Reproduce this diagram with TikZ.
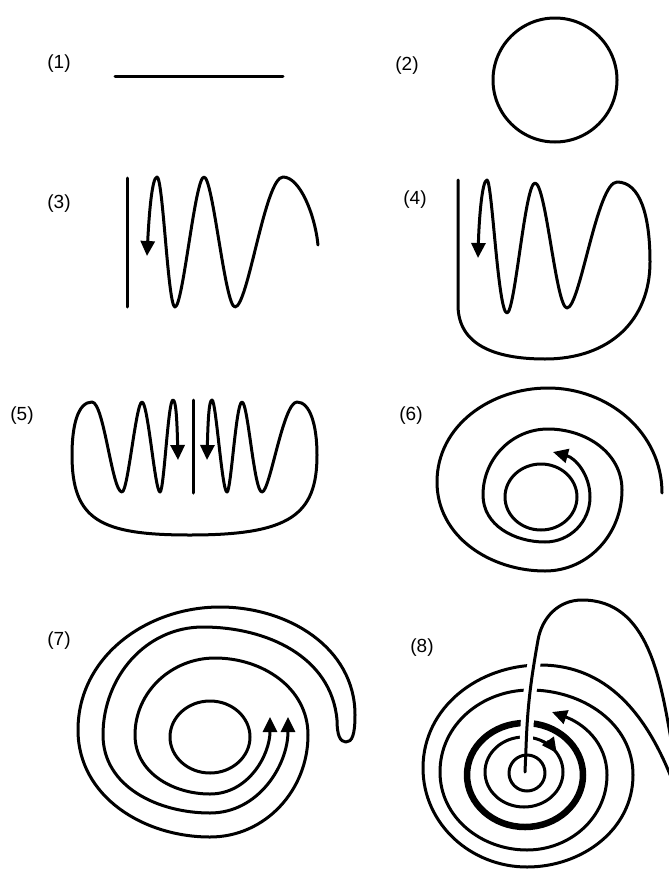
\documentclass[tikz,border=0pt]{standalone}
\usepackage{fontspec}
\setmainfont{Liberation Sans}
\usetikzlibrary{arrows.meta}
\tikzset{
  wire/.style  = {line width=3pt, black, line cap=round, line join=round},
  fat/.style   = {line width=6.5pt, black},
  halo/.style  = {line width=13pt, white},
  head/.style  = {-{Triangle[length=15pt,width=14pt]}},
  heads/.style = {{Triangle[length=15pt,width=14pt]}-{Triangle[length=15pt,width=14pt]}},
  lbl/.style   = {font=\fontsize{19}{21}\selectfont, inner sep=0pt},
}
\begin{document}
\begin{tikzpicture}[x=1pt,y=1pt]
\useasboundingbox (0,0) rectangle (669,-870);
\fill[white] (0,0) rectangle (669,-870);
\clip (0,0) rectangle (669,-870);
% --- labels -------------------------------------------------------------
\node[lbl] (l1) at (59,-64)  {(1)};
\node[lbl] (l2) at (407,-66) {(2)};
\node[lbl] (l3) at (59,-204) {(3)};
\node[lbl] (l4) at (415,-200) {(4)};
\node[lbl] (l5) at (22,-416) {(5)};
\node[lbl] (l6) at (411,-416) {(6)};
\node[lbl] (l7) at (59,-641) {(7)};
\node[lbl] (l8) at (422,-648) {(8)};
% --- (1) and (2) --------------------------------------------------------
\draw[wire] (115,-76) -- (283,-76);
\draw[wire] (555,-80) circle (62);
% --- (3) ----------------------------------------------------------------
\draw[wire] (127,-178) -- (127,-307);
\draw[wire, head] (318,-245) .. controls (315,-215) and (300,-177) .. (283,-177)
  .. controls (265,-177) and (248,-307) .. (235,-307)
  .. controls (225,-307) and (213,-177) .. (204,-177)
  .. controls (195,-177) and (183,-307) .. (175,-307)
  .. controls (168,-307) and (163,-177) .. (157,-177)
  .. controls (152,-177) and (149,-215) .. (147,-256);
% --- (4) ----------------------------------------------------------------
\draw[wire, head] (458,-180) -- (458,-305)
  .. controls (458,-345) and (495,-359) .. (545,-359)
  .. controls (610,-359) and (650,-320) .. (650,-262)
  .. controls (650,-215) and (640,-182) .. (617,-182)
  .. controls (597,-182) and (580,-308) .. (567,-308)
  .. controls (556,-308) and (546,-183) .. (535,-183)
  .. controls (525,-183) and (515,-313) .. (507,-313)
  .. controls (498,-313) and (492,-180) .. (487,-180)
  .. controls (482,-180) and (479,-220) .. (478,-258);
% --- (5) ----------------------------------------------------------------
\draw[wire] (193,-400) -- (193,-493);
\draw[wire, heads] (178,-460) .. controls (177,-420) and (176,-400) .. (173,-400)
  .. controls (168,-400) and (164,-492) .. (160,-492)
  .. controls (155,-492) and (148,-402) .. (142,-402)
  .. controls (136,-402) and (128,-492) .. (122,-492)
  .. controls (112,-492) and (104,-402) .. (92,-402)
  .. controls (78,-402) and (72,-425) .. (72,-455)
  .. controls (72,-520) and (100,-535) .. (190,-535)
  .. controls (290,-535) and (317,-515) .. (317,-455)
  .. controls (317,-425) and (310,-402) .. (297,-402)
  .. controls (283,-402) and (270,-492) .. (262,-492)
  .. controls (254,-492) and (248,-402) .. (242,-402)
  .. controls (236,-402) and (231,-492) .. (227,-492)
  .. controls (222,-492) and (216,-400) .. (212,-400)
  .. controls (209,-400) and (208,-420) .. (207,-460);
% --- (6) ----------------------------------------------------------------
\draw[wire] (541,-497) ellipse [x radius=36, y radius=33];
\draw[wire, head] (662,-493) to[out=90,in=0] (548,-388) to[out=180,in=90] (437,-482)
  to[out=-90,in=180] (545,-571) to[out=0,in=-90] (622,-490)
  to[out=90,in=0] (548,-429) to[out=180,in=90] (483,-495)
  to[out=-90,in=180] (545,-542) to[out=0,in=-90] (590,-497)
  to[out=90,in=-15] (553,-452);
% --- (7) ----------------------------------------------------------------
\draw[wire] (210,-737) ellipse [x radius=40, y radius=36];
\draw[wire, heads] (270,-717) to[out=-90,in=0] (210,-794) to[out=180,in=-90] (135,-735)
  to[out=90,in=180] (215,-658) to[out=0,in=90] (308,-735)
  to[out=-90,in=0] (210,-837) to[out=180,in=-90] (78,-730)
  to[out=90,in=180] (220,-607) to[out=0,in=90] (355,-715)
  .. controls (355,-735) and (352,-742) .. (346,-742)
  .. controls (340,-742) and (337,-735) .. (337,-720)
  to[out=95,in=0] (203,-627) to[out=180,in=90] (103,-735)
  to[out=-90,in=180] (210,-813) to[out=0,in=-90] (288,-717);
% --- (8) ----------------------------------------------------------------
% spiral, drawn first so that the strand can pass over it
\draw[wire, head] (676,-790) to[out=110,in=0] (540,-665) to[out=180,in=90] (423,-768)
  to[out=-90,in=180] (527,-867) to[out=0,in=-90] (633,-775)
  to[out=90,in=0] (530,-690) to[out=180,in=90] (440,-772)
  to[out=-90,in=180] (527,-850) to[out=0,in=-90] (607,-775)
  to[out=90,in=-20] (552,-712);
\draw[fat]  (525,-775) ellipse [x radius=58, y radius=52];
\draw[wire] (524,-772) ellipse [x radius=39, y radius=35];
\draw[wire, head] (524,-772) ++(62:39 and 35) arc[start angle=62, end angle=33, x radius=39, y radius=35];
\draw[wire] (527,-773) circle (18);
% strand from the centre, over the rings
\draw[halo] (526,-748) to[out=88,in=-100] (538,-640);
\draw[wire] (525,-772) -- (526,-748) to[out=88,in=-100] (538,-640)
  to[out=80,in=180] (582,-600) to[out=0,in=100] (672,-745);
\end{tikzpicture}
\end{document}
